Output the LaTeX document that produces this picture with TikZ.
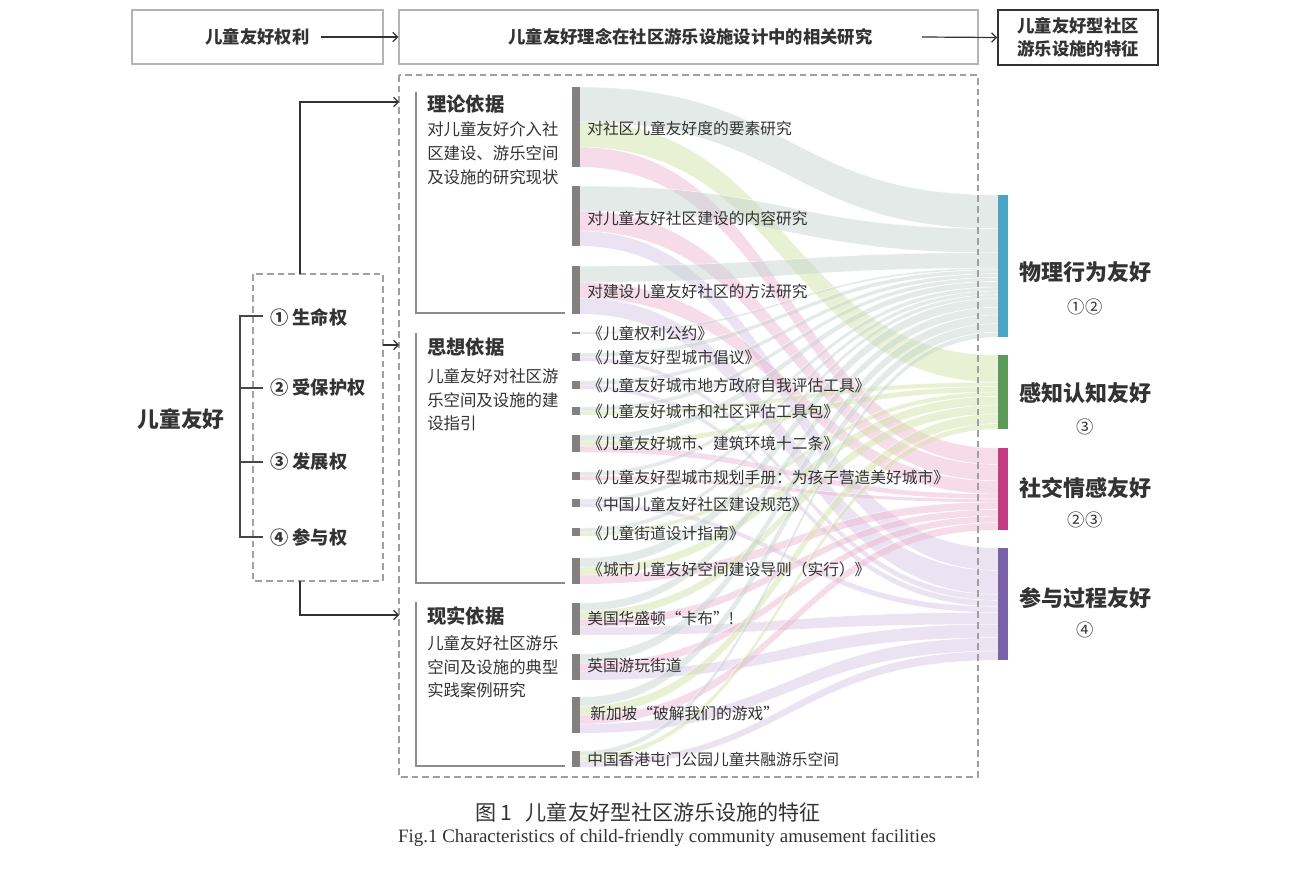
\documentclass[tikz,border=0pt]{standalone}
\usepackage{fontspec}
\setmainfont{Noto Sans CJK SC}
\newfontfamily\capen{Liberation Serif}
\usetikzlibrary{arrows.meta}
\definecolor{txt}{HTML}{333333}
\definecolor{boxln}{HTML}{B4B4B4}
\definecolor{dashln}{HTML}{A0A0A0}
\definecolor{brk}{HTML}{8C8C8C}
\definecolor{barg}{HTML}{858080}
\definecolor{tblue}{HTML}{4AA5C4}
\definecolor{tgreen}{HTML}{5B9A58}
\definecolor{tmag}{HTML}{C23B85}
\definecolor{tpurp}{HTML}{7B62A8}
\definecolor{fb}{HTML}{C5D4CE}
\definecolor{fg}{HTML}{D3E2A8}
\definecolor{fm}{HTML}{EDB5CF}
\definecolor{fp}{HTML}{D6C6E4}
\newcommand{\band}[5]{%
  \fill[#5, fill opacity=0.48] (580,#1) .. controls (789,#1) and (789,#3) .. (998,#3) -- (998,#4) .. controls (789,#4) and (789,#2) .. (580,#2) -- cycle;
  \draw[white, line width=0.5pt, opacity=0.7] (580,#1) .. controls (789,#1) and (789,#3) .. (998,#3);}
\begin{document}
\begin{tikzpicture}[x=0.75pt,y=-0.75pt,
  topbox/.style={draw=boxln, line width=1.1pt, text=txt, font=\fontsize{13}{16}\selectfont\bfseries, inner sep=0pt},
  endbox/.style={draw=txt, line width=1.4pt, text=txt, font=\fontsize{13}{17}\selectfont\bfseries, inner sep=0pt, align=center},
  arr/.style={draw=txt, line width=0.9pt, -{Straight Barb[length=3.5pt,width=7pt]}},
  dbox/.style={draw=dashln, line width=1pt, dash pattern=on 5pt off 3pt},
  gbr/.style={draw=brk, line width=1.6pt},
  lbr/.style={draw=txt!90, line width=1.2pt},
  src/.style={anchor=west, inner sep=0pt, text=txt, font=\fontsize{11.8}{13}\selectfont},
  head/.style={anchor=west, inner sep=0pt, text=txt, font=\fontsize{14.5}{16}\selectfont\bfseries},
  body/.style={anchor=west, inner sep=0pt, text=txt, font=\fontsize{12.3}{14}\selectfont},
  right/.style={inner sep=0pt, text=txt, font=\fontsize{16.5}{18}\selectfont\bfseries},
  rnum/.style={inner sep=0pt, text=txt, font=\fontsize{13}{15}\selectfont},
  item/.style={anchor=west, inner sep=0pt, text=txt, font=\fontsize{13.7}{15}\selectfont\bfseries}]
\useasboundingbox (0,0) rectangle (1290,870);
\fill[white] (0,0) rectangle (1290,870);

% ---------- flows ----------
\band{87}{122}{195}{228.6}{fb}
\band{122}{147}{355}{382.2}{fg}
\band{147}{167}{448}{464.4}{fm}
\band{186}{211}{228.6}{252.6}{fb}
\band{211}{231}{464.4}{480.8}{fm}
\band{231}{246}{548}{570.4}{fp}
\band{266}{282}{252.6}{267.9}{fb}
\band{282}{298}{480.8}{493.9}{fm}
\band{298}{314}{570.4}{594.3}{fp}
\band{332}{334}{267.9}{269.8}{fb}
\band{353}{357}{269.8}{273.7}{fb}
\band{357}{361}{594.3}{600.3}{fp}
\band{381}{385}{273.7}{277.5}{fb}
\band{385}{389}{600.3}{606.3}{fp}
\band{407}{411}{277.5}{281.4}{fb}
\band{411}{415}{382.2}{386.6}{fg}
\band{435}{441}{281.4}{287.1}{fb}
\band{441}{446}{386.6}{392.0}{fg}
\band{446}{452}{493.9}{498.8}{fm}
\band{472}{476}{287.1}{291.0}{fb}
\band{476}{480}{498.8}{502.1}{fm}
\band{499}{503}{291.0}{294.8}{fb}
\band{503}{507}{606.3}{612.3}{fp}
\band{528}{532}{294.8}{298.6}{fb}
\band{532}{536}{392.0}{396.4}{fg}
\band{558}{567}{298.6}{307.3}{fb}
\band{567}{575}{396.4}{405.1}{fg}
\band{575}{584}{502.1}{509.5}{fm}
\band{603}{611}{307.3}{315.0}{fb}
\band{611}{619}{405.1}{413.8}{fg}
\band{619}{627}{509.5}{516.1}{fm}
\band{627}{635}{612.3}{624.2}{fp}
\band{654}{663}{315.0}{323.6}{fb}
\band{663}{671}{516.1}{522.7}{fm}
\band{671}{680}{624.2}{637.6}{fp}
\band{697}{706}{323.6}{332.2}{fb}
\band{706}{715}{413.8}{423.6}{fg}
\band{715}{724}{522.7}{530}{fm}
\band{724}{733}{637.6}{651.0}{fp}
\band{751}{756}{332.2}{337}{fb}
\band{756}{761}{423.6}{429}{fg}
\band{761}{767}{651.0}{660}{fp}

% ---------- top row ----------
\node[topbox, minimum width={251*0.75pt}, minimum height={54*0.75pt}] (box1) at (257.5,37) {儿童友好权利};
\node[topbox, minimum width={579*0.75pt}, minimum height={54*0.75pt}] (box2) at (688.5,37) {\hspace*{3pt}儿童友好理念在社区游乐设施设计中的相关研究};
\node[endbox, minimum width={160*0.75pt}, minimum height={55*0.75pt}] (box3) at (1078,37.5) {儿童友好型社区\\游乐设施的特征};
\coordinate (a1) at (321,37);
\coordinate (a2) at (922,37);
\draw[arr] (a1) -- (box2.west);
\draw[arr] (a2) -- (box3.west);

% ---------- big dashed box ----------
\draw[dbox] (399,75) rectangle (978,777);

% ---------- left part ----------
\node[inner sep=0pt, text=txt, font=\fontsize{16.3}{18}\selectfont\bfseries] (kid) at (181,419) {儿童友好};
\draw[dbox] (253,274) rectangle (383,581);
\coordinate (rtop) at (300,274);
\coordinate (rbot) at (300,581);
\coordinate (rmid) at (383,345);
\coordinate (inA) at (399,102);
\coordinate (inB) at (399,345);
\coordinate (inC) at (399,615);
\draw[arr] (rtop) |- (inA);
\draw[arr] (rbot) |- (inC);
\draw[arr] (rmid) -- (inB);
\draw[lbr] (263,316) -- (240,316) -- (240,537) -- (263,537);
\draw[lbr] (240,388) -- (263,388);
\draw[lbr] (240,462) -- (263,462);
\node[item] (i1) at (270,317) {① 生命权};
\node[item] (i2) at (270,388) {② 受保护权};
\node[item] (i3) at (270,462) {③ 发展权};
\node[item] (i4) at (270,537) {④ 参与权};

% ---------- middle brackets ----------
\draw[gbr] (416,92) |- (565,313);
\draw[gbr] (416,333) |- (565,583);
\draw[gbr] (416,602) |- (565,766);
\node[head] (h1) at (427,104) {理论依据};
\node[body] (h1a) at (427,129) {对儿童友好介入社};
\node[body] (h1b) at (427,153) {区建设、游乐空间};
\node[body] (h1c) at (427,177) {及设施的研究现状};
\node[head] (h2) at (427,347) {思想依据};
\node[body] (h2a) at (427,376) {儿童友好对社区游};
\node[body] (h2b) at (427,400) {乐空间及设施的建};
\node[body] (h2c) at (427,423) {设指引};
\node[head] (h3) at (427,616) {现实依据};
\node[body] (h3a) at (427,643) {儿童友好社区游乐};
\node[body] (h3b) at (427,667) {空间及设施的典型};
\node[body] (h3c) at (427,690) {实践案例研究};

% ---------- source bars ----------
\fill[barg] (572,87) rectangle (580,167);
\fill[barg] (572,186) rectangle (580,246);
\fill[barg] (572,266) rectangle (580,314);
\fill[barg] (572,332) rectangle (580,334);
\fill[barg] (572,353) rectangle (580,361);
\fill[barg] (572,381) rectangle (580,389);
\fill[barg] (572,407) rectangle (580,415);
\fill[barg] (572,435) rectangle (580,452);
\fill[barg] (572,472) rectangle (580,480);
\fill[barg] (572,499) rectangle (580,507);
\fill[barg] (572,528) rectangle (580,536);
\fill[barg] (572,558) rectangle (580,584);
\fill[barg] (572,603) rectangle (580,635);
\fill[barg] (572,654) rectangle (580,680);
\fill[barg] (572,697) rectangle (580,733);
\fill[barg] (572,751) rectangle (580,767);

\node[src] (s1) at (587,128) {对社区儿童友好度的要素研究};
\node[src] (s2) at (587,218) {对儿童友好社区建设的内容研究};
\node[src] (s3) at (587,291) {对建设儿童友好社区的方法研究};
\node[src] (s4) at (587,333) {《儿童权利公约》};
\node[src] (s5) at (587,357) {《儿童友好型城市倡议》};
\node[src] (s6) at (587,385) {《儿童友好城市地方政府自我评估工具》};
\node[src] (s7) at (587,411) {《儿童友好城市和社区评估工具包》};
\node[src] (s8) at (587,443) {《儿童友好城市、建筑环境十二条》};
\node[src] (s9) at (587,477) {《儿童友好型城市规划手册：为孩子营造美好城市》};
\node[src] (s10) at (587,504) {《中国儿童友好社区建设规范》};
\node[src] (s11) at (587,533) {《儿童街道设计指南》};
\node[src] (s12) at (587,570) {《城市儿童友好空间建设导则（实行）》};
\node[src] (s13) at (587,618) {美国华盛顿“卡布”!};
\node[src] (s14) at (587,666) {英国游玩街道};
\node[src] (s15) at (590,714) {新加坡“破解我们的游戏”};
\node[src] (s16) at (587,759) {中国香港屯门公园儿童共融游乐空间};

% ---------- target bars ----------
\fill[tblue] (998,195) rectangle (1008,337);
\fill[tgreen] (998,355) rectangle (1008,429);
\fill[tmag] (998,448) rectangle (1008,530);
\fill[tpurp] (998,548) rectangle (1008,660);
\node[right] (r1) at (1085,272) {物理行为友好};
\node[rnum] (r1n) at (1085,307) {①②};
\node[right] (r2) at (1085,393) {感知认知友好};
\node[rnum] (r2n) at (1085,427) {③};
\node[right] (r3) at (1085,488) {社交情感友好};
\node[rnum] (r3n) at (1085,520) {②③};
\node[right] (r4) at (1085,598) {参与过程友好};
\node[rnum] (r4n) at (1085,630) {④};

% ---------- caption ----------
\node[inner sep=0pt, text=txt, font=\fontsize{15.8}{18}\selectfont] (capcn) at (648,812) {图 1\hspace{10pt}儿童友好型社区游乐设施的特征};
\node[inner sep=0pt, text=txt, font=\capen\fontsize{14.2}{16}\selectfont] (capen) at (667,838) {Fig.1 Characteristics of child-friendly community amusement facilities};
\end{tikzpicture}
\end{document}
